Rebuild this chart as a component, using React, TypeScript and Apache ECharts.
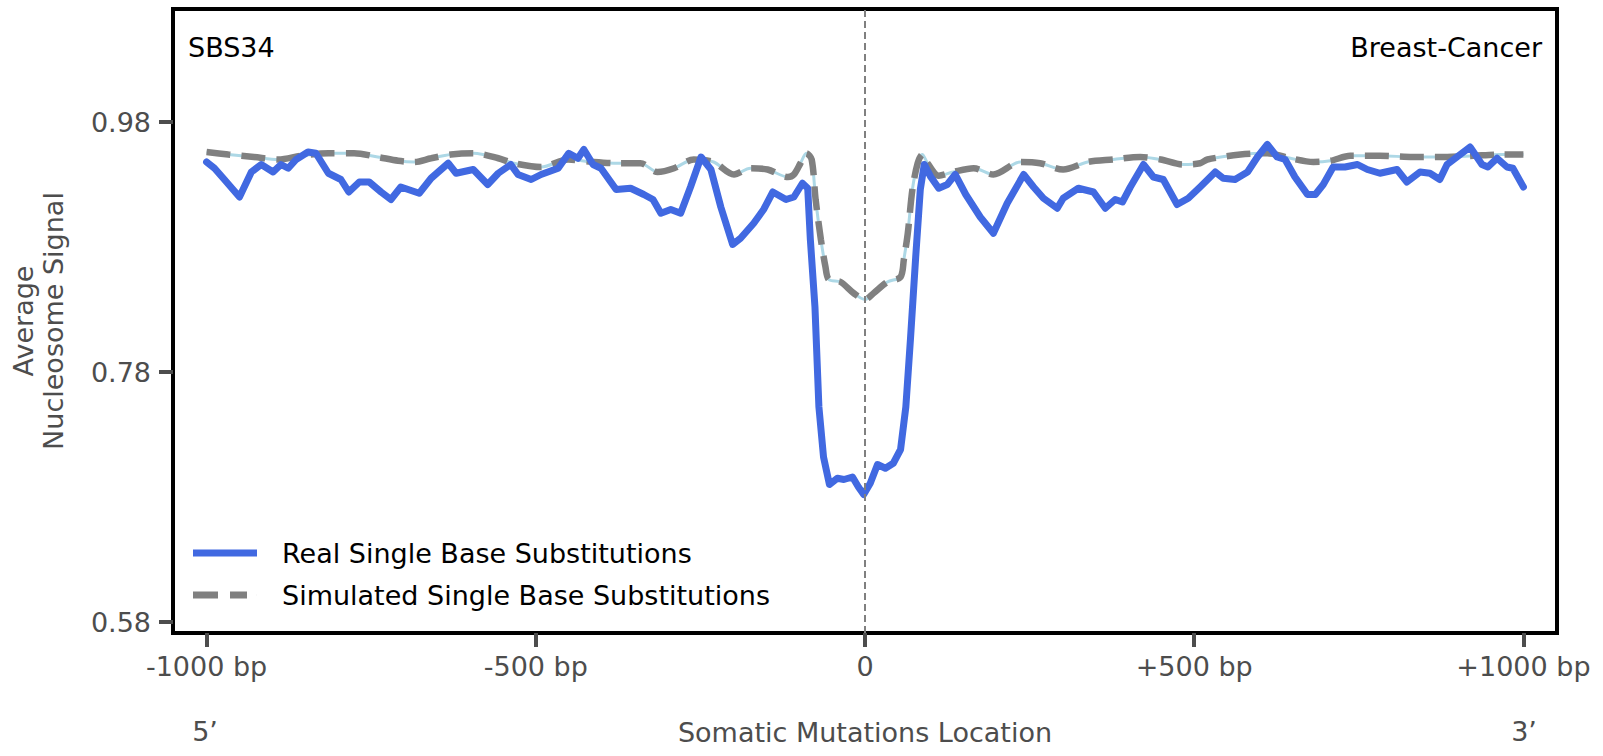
import React, { useEffect, useRef } from "react";
import * as echarts from "echarts";

// ---- data (bp offset from mutation, average nucleosome signal) ----
const REAL_POS = [
  -1000, -988, -973, -950, -932, -917, -899, -887, -876, -864, -846, -834, -815, -796, -784, -768, -753, -735, -720, -705,
  -677, -659, -633, -621, -595, -573, -557, -538, -527, -507, -492, -466, -450, -436, -427, -413, -401, -378, -356, -336,
  -322, -310, -295, -280, -265, -249, -234, -219, -201, -189, -169, -154, -140, -120, -108, -95, -87, -83, -76, -70,
  -63, -54, -42, -32, -19, -10, -2, 8, 19, 31, 43, 54, 62, 69, 77, 84, 90, 100, 112, 125,
  137, 153, 175, 195, 216, 241, 256, 271, 292, 301, 324, 347, 365, 380, 391, 403, 423, 438, 453, 474,
  491, 509, 532, 544, 562, 581, 596, 611, 626, 638, 653, 672, 684, 696, 711, 729, 748, 763, 782, 808,
  823, 843, 858, 873, 884, 904, 919, 937, 946, 960, 975, 984, 1000,
];
const REAL_VALUES = [
  0.948, 0.943, 0.934, 0.92, 0.94, 0.946, 0.94, 0.946, 0.943, 0.95, 0.956, 0.955, 0.939, 0.934, 0.924, 0.932, 0.932, 0.924, 0.918, 0.928,
  0.923, 0.935, 0.947, 0.939, 0.942, 0.93, 0.939, 0.946, 0.938, 0.934, 0.938, 0.943, 0.955, 0.951, 0.958, 0.946, 0.943, 0.926, 0.927, 0.922,
  0.918, 0.907, 0.91, 0.907, 0.928, 0.952, 0.942, 0.912, 0.882, 0.887, 0.899, 0.91, 0.924, 0.918, 0.92, 0.931, 0.927, 0.886, 0.832, 0.752,
  0.712, 0.69, 0.695, 0.694, 0.696, 0.688, 0.682, 0.691, 0.706, 0.703, 0.707, 0.718, 0.752, 0.806, 0.872, 0.926, 0.946, 0.936, 0.927, 0.93,
  0.938, 0.922, 0.904, 0.891, 0.915, 0.938, 0.928, 0.919, 0.911, 0.919, 0.927, 0.924, 0.911, 0.918, 0.916, 0.928, 0.946, 0.936, 0.934, 0.914,
  0.919, 0.928, 0.94, 0.935, 0.934, 0.94, 0.952, 0.962, 0.952, 0.95, 0.936, 0.922, 0.922, 0.93, 0.944, 0.944, 0.946, 0.942, 0.939, 0.942,
  0.932, 0.94, 0.939, 0.934, 0.946, 0.954, 0.96, 0.946, 0.944, 0.951, 0.944, 0.943, 0.928,
];

const SIM_POS = [
  -1000, -967, -928, -891, -856, -815, -776, -740, -709, -685, -659, -629, -594, -557, -533, -492, -451, -412, -375, -341,
  -315, -290, -260, -230, -199, -174, -148, -117, -108, -98, -89, -81, -75, -67, -60, -55, -37, -17, 0, 13,
  34, 54, 59, 65, 72, 80, 87, 95, 112, 134, 165, 195, 236, 266, 301, 338, 377, 418, 449, 483,
  509, 520, 570, 611, 646, 681, 707, 737, 782, 832, 884, 924, 965, 1000,
];
const SIM_VALUES = [
  0.956, 0.954, 0.952, 0.95, 0.953, 0.955, 0.955, 0.952, 0.949, 0.948, 0.951, 0.954, 0.955, 0.951, 0.947, 0.944, 0.95, 0.948, 0.947, 0.947,
  0.94, 0.943, 0.95, 0.948, 0.938, 0.943, 0.942, 0.936, 0.938, 0.947, 0.955, 0.95, 0.918, 0.886, 0.864, 0.854, 0.852, 0.843, 0.838, 0.843,
  0.852, 0.856, 0.87, 0.891, 0.926, 0.947, 0.954, 0.947, 0.937, 0.94, 0.943, 0.938, 0.948, 0.947, 0.942, 0.948, 0.95, 0.952, 0.95, 0.946,
  0.947, 0.95, 0.954, 0.955, 0.951, 0.948, 0.949, 0.953, 0.953, 0.952, 0.952, 0.953, 0.954, 0.954,
];

const X_TICKS = [-1000, -500, 0, 500, 1000];
const Y_TICKS = [0.58, 0.78, 0.98];
const SERIES_NAMES = ["Real Single Base Substitutions", "Simulated Single Base Substitutions"];

const FONT = "DejaVu Sans";
const TICK_COLOR = "#4d4d4d";
const X_MIN = -1051;
const X_MAX = 1051;
const Y_MIN = 0.5712;
const Y_MAX = 1.0704;

function xLabel(v: number): string {
  if (v === 0) return "0";
  return (v > 0 ? "+" : "") + v + " bp";
}

export default function App() {
  const ref = useRef<HTMLDivElement>(null);

  useEffect(() => {
    if (!ref.current) return;
    const chart = echarts.init(ref.current, null, { renderer: "svg" });
    const realData = REAL_POS.map((p, i) => [p, REAL_VALUES[i]]);
    const simData = SIM_POS.map((p, i) => [p, SIM_VALUES[i]]);

    chart.setOption({
      animation: false,
      grid: {
        left: 172,
        right: 46,
        top: 9,
        bottom: 123,
        show: true,
        borderColor: "#000000",
        borderWidth: 4,
      },
      legend: {
        data: [
          { name: SERIES_NAMES[0], icon: "path://M0 0H64V7H0Z" },
          { name: SERIES_NAMES[1], icon: "path://M0 0H25V7H0Z M37 0H54V7H37Z M63.9 3H64V4H63.9Z" },
        ],
        orient: "vertical",
        left: 193,
        top: 538,
        padding: 0,
        itemWidth: 64,
        itemHeight: 7,
        itemGap: 12,
        textStyle: {
          fontFamily: FONT,
          fontSize: 27,
          color: "#000000",
          lineHeight: 30,
          padding: [0, 0, 0, 20],
        },
      },
      xAxis: {
        type: "value",
        min: X_MIN,
        max: X_MAX,
        name: "Somatic Mutations Location",
        nameLocation: "middle",
        nameGap: 84,
        nameTextStyle: { fontFamily: FONT, fontSize: 27, color: TICK_COLOR, lineHeight: 31 },
        axisLine: { show: true, onZero: false, lineStyle: { color: "#000000", width: 4 } },
        splitLine: { show: false },
        axisTick: { show: true, customValues: X_TICKS, length: 14, lineStyle: { color: TICK_COLOR, width: 4 } },
        axisLabel: {
          customValues: X_TICKS,
          formatter: (v: number) => xLabel(v),
          fontFamily: FONT,
          fontSize: 27,
          color: TICK_COLOR,
          margin: 18,
          lineHeight: 31,
        },
      },
      yAxis: {
        type: "value",
        min: Y_MIN,
        max: Y_MAX,
        name: "Average\nNucleosome Signal",
        nameLocation: "middle",
        nameGap: 105,
        nameTextStyle: { fontFamily: FONT, fontSize: 27, color: TICK_COLOR, lineHeight: 30 },
        axisLine: { show: true, onZero: false, lineStyle: { color: "#000000", width: 4 } },
        splitLine: { show: false },
        axisTick: { show: true, customValues: Y_TICKS, length: 14, lineStyle: { color: TICK_COLOR, width: 4 } },
        axisLabel: {
          customValues: Y_TICKS,
          formatter: (v: number) => v.toFixed(2),
          fontFamily: FONT,
          fontSize: 27,
          color: TICK_COLOR,
          margin: 22,
        },
      },
      graphic: [
        {
          type: "text",
          x: 188,
          y: 47,
          style: { text: "SBS34", fontFamily: FONT, fontSize: 27, fill: "#000000", align: "left", verticalAlign: "middle" },
        },
        {
          type: "text",
          x: 1542,
          y: 47,
          style: { text: "Breast-Cancer", fontFamily: FONT, fontSize: 27, fill: "#000000", align: "right", verticalAlign: "middle" },
        },
        {
          type: "text",
          x: 205,
          y: 731,
          style: { text: "5\u2019", fontFamily: FONT, fontSize: 27, fill: TICK_COLOR, align: "center", verticalAlign: "middle" },
        },
        {
          type: "text",
          x: 1524,
          y: 731,
          style: { text: "3\u2019", fontFamily: FONT, fontSize: 27, fill: TICK_COLOR, align: "center", verticalAlign: "middle" },
        },
      ],
      series: [
        {
          name: "simulated-underlay",
          type: "line",
          data: simData,
          showSymbol: false,
          symbol: "none",
          smooth: 0.3,
          silent: true,
          lineStyle: { color: "#ADD8E6", width: 3 },
        },
        {
          name: SERIES_NAMES[1],
          type: "line",
          data: simData,
          showSymbol: false,
          symbol: "none",
          smooth: 0.3,
          silent: true,
          itemStyle: { color: "#808080" },
          lineStyle: { color: "#808080", width: 6.5, type: [24, 11] },
        },
        {
          name: SERIES_NAMES[0],
          type: "line",
          data: realData,
          showSymbol: false,
          symbol: "none",
          silent: true,
          itemStyle: { color: "#4169E1" },
          lineStyle: { color: "#4169E1", width: 7, join: "round", cap: "round" },
          markLine: {
            silent: true,
            symbol: ["none", "none"],
            label: { show: false },
            lineStyle: { color: "#808080", width: 2, type: [7, 4] },
            data: [{ xAxis: 0 }],
          },
        },
      ],
    });

    return () => {
      chart.dispose();
    };
  }, []);

  return (
    <div
      ref={ref}
      style={{ position: "fixed", left: 0, top: 0, width: 1603, height: 756, background: "#fff" }}
    />
  );
}
